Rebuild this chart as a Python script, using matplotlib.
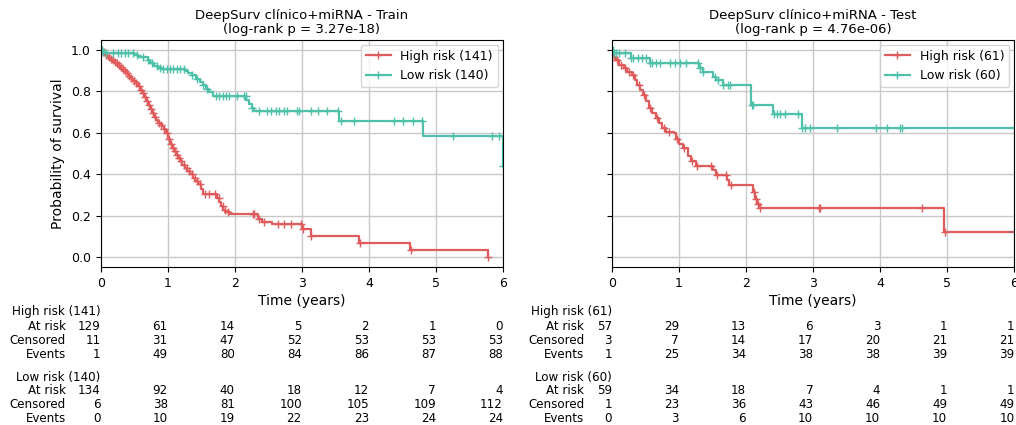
import numpy as np
import matplotlib
matplotlib.use("Agg")
import matplotlib.pyplot as plt
from matplotlib import transforms

# ---------------- data ----------------
titles = ["DeepSurv clínico+miRNA - Train\n(log-rank p = 3.27e-18)",
          "DeepSurv clínico+miRNA - Test\n(log-rank p = 4.76e-06)"]
labels_train = ["High risk (141)", "Low risk (140)"]
labels_test = ["High risk (61)", "Low risk (60)"]

# Train, high risk: step times and survival after each step
hi_tr_t = [0, 0.03, 0.07, 0.10, 0.13, 0.16, 0.19, 0.22, 0.25, 0.28, 0.31, 0.34, 0.37,
           0.40, 0.43, 0.46, 0.49, 0.52, 0.55, 0.58, 0.61, 0.64, 0.67, 0.70, 0.73, 0.76,
           0.79, 0.82, 0.85, 0.88, 0.91, 0.94, 0.97, 1.00, 1.03, 1.06, 1.09, 1.12, 1.15,
           1.18, 1.21, 1.25, 1.29, 1.33, 1.37, 1.41, 1.45, 1.49, 1.52, 1.74, 1.77, 1.80,
           1.83, 1.86, 1.93, 2.34, 2.40, 2.56, 3.00, 3.14, 3.85, 4.62, 5.77]
hi_tr_s = [1.0, 0.99, 0.975, 0.965, 0.958, 0.95, 0.943, 0.936, 0.928, 0.918, 0.908, 0.898,
           0.887, 0.875, 0.864, 0.857, 0.85, 0.84, 0.825, 0.805, 0.79, 0.772, 0.755, 0.735,
           0.716, 0.697, 0.677, 0.66, 0.645, 0.638, 0.632, 0.62, 0.598, 0.572, 0.548, 0.528,
           0.51, 0.494, 0.478, 0.462, 0.446, 0.43, 0.415, 0.4, 0.384, 0.368, 0.352, 0.33,
           0.305, 0.285, 0.265, 0.245, 0.228, 0.218, 0.207, 0.183, 0.17, 0.158, 0.133, 0.10,
           0.067, 0.033, 0.0]
hi_tr_end = 5.78
hi_tr_cens = [0.02, 0.05, 0.08, 0.12, 0.15, 0.18, 0.21, 0.24, 0.27, 0.30, 0.33, 0.36, 0.39,
              0.42, 0.45, 0.50, 0.53, 0.57, 0.60, 0.63, 0.66, 0.69, 0.72, 0.75, 0.78, 0.81,
              0.87, 0.90, 0.95, 0.99, 1.02, 1.05, 1.08, 1.11, 1.14, 1.17, 1.20, 1.24, 1.28,
              1.32, 1.36, 1.40, 1.44, 1.48, 1.55, 1.62, 1.70, 1.76, 1.82, 1.85, 1.90, 2.27,
              2.29, 2.36, 2.44, 2.65, 2.74, 2.84, 2.99, 3.01, 3.14, 3.86, 4.63, 5.78]

# Train, low risk
lo_tr_t = [0, 0.03, 0.08, 0.50, 0.56, 0.70, 0.74, 0.80, 0.86, 0.92, 1.25, 1.30, 1.36, 1.42,
           1.48, 1.52, 1.57, 1.62, 1.67, 2.17, 2.21, 2.25, 2.28, 3.56, 4.81, 6.0]
lo_tr_s = [1.0, 0.992, 0.984, 0.976, 0.968, 0.952, 0.936, 0.925, 0.915, 0.907, 0.897, 0.889,
           0.878, 0.862, 0.846, 0.83, 0.812, 0.795, 0.776, 0.758, 0.74, 0.722, 0.706, 0.658,
           0.585, 0.44]
lo_tr_end = 6.0
lo_tr_cens = [0.02, 0.035, 0.085, 0.185, 0.26, 0.31, 0.36, 0.41, 0.485, 0.535, 0.635, 0.71,
              0.76, 0.835, 0.885, 0.935, 0.985, 1.035, 1.085, 1.135, 1.185, 1.235, 1.36, 1.44,
              1.52, 1.58, 1.72, 1.77, 1.82, 1.87, 1.92, 2.03, 2.13, 2.16, 2.26, 2.36, 2.485,
              2.535, 2.61, 2.66, 2.735, 2.785, 2.935, 2.96, 3.135, 3.235, 3.37, 3.535, 3.585,
              3.785, 4.37, 4.51, 4.66, 4.785, 5.26, 5.835, 5.935, 6.0]

# Test, high risk
hi_te_t = [0, 0.005, 0.02, 0.06, 0.11, 0.18, 0.23, 0.30, 0.35, 0.38, 0.42, 0.46, 0.50, 0.55,
           0.60, 0.65, 0.70, 0.75, 0.80, 0.93, 0.96, 1.00, 1.06, 1.13, 1.18, 1.25, 1.50, 1.55,
           1.72, 1.75, 2.10, 2.13, 2.16, 2.20, 4.95]
hi_te_s = [1.0, 0.984, 0.967, 0.95, 0.93, 0.912, 0.896, 0.88, 0.856, 0.832, 0.808, 0.784,
           0.752, 0.72, 0.696, 0.672, 0.648, 0.624, 0.605, 0.6, 0.568, 0.544, 0.525, 0.49,
           0.466, 0.442, 0.418, 0.394, 0.37, 0.346, 0.313, 0.281, 0.257, 0.238, 0.119]
hi_te_end = 6.3
hi_te_cens = [0.03, 0.08, 0.13, 0.20, 0.26, 0.32, 0.40, 0.48, 0.57, 0.67, 0.78, 0.85, 0.97,
              1.08, 1.20, 1.27, 1.48, 1.57, 1.70, 1.77, 2.12, 2.15, 2.18, 2.21, 3.08, 3.10,
              4.63, 4.96]

# Test, low risk
lo_te_t = [0, 0.02, 0.28, 0.56, 1.30, 1.36, 1.50, 1.55, 1.65, 2.08, 2.40, 2.84]
lo_te_s = [1.0, 0.984, 0.96, 0.936, 0.912, 0.896, 0.872, 0.856, 0.832, 0.736, 0.69, 0.621]
lo_te_end = 6.3
lo_te_cens = [0.01, 0.03, 0.06, 0.10, 0.19, 0.29, 0.31, 0.39, 0.44, 0.51, 0.56, 0.59, 0.66,
              0.71, 0.86, 0.94, 1.01, 1.11, 1.29, 1.31, 1.36, 1.53, 1.58, 1.65, 1.73, 1.76,
              2.09, 2.11, 2.41, 2.46, 2.51, 2.58, 2.78, 2.84, 2.88, 2.96, 3.35, 3.93, 4.10,
              4.30, 4.33]

# At-risk tables (ticks 0..6)
table_ticks = [0, 1, 2, 3, 4, 5, 6]
row_names = ["At risk", "Censored", "Events"]
tr_hi_atrisk = [129, 61, 14, 5, 2, 1, 0]
tr_hi_cens = [11, 31, 47, 52, 53, 53, 53]
tr_hi_events = [1, 49, 80, 84, 86, 87, 88]
tr_lo_atrisk = [134, 92, 40, 18, 12, 7, 4]
tr_lo_cens = [6, 38, 81, 100, 105, 109, 112]
tr_lo_events = [0, 10, 19, 22, 23, 24, 24]
te_hi_atrisk = [57, 29, 13, 6, 3, 1, 1]
te_hi_cens = [3, 7, 14, 17, 20, 21, 21]
te_hi_events = [1, 25, 34, 38, 38, 39, 39]
te_lo_atrisk = [59, 34, 18, 7, 4, 1, 1]
te_lo_cens = [1, 23, 36, 43, 46, 49, 49]
te_lo_events = [0, 3, 6, 10, 10, 10, 10]

RED = "#e05c5c"
TEAL = "#4fc1aa"

# ---------------- figure ----------------
fig = plt.figure(figsize=(10.16, 4.25), dpi=100)
W, H = 1016.0, 425.0
ax1 = fig.add_axes([100.7 / W, 1 - 267.3 / H, 402.3 / W, 227.6 / H])
ax2 = fig.add_axes([612.0 / W, 1 - 267.3 / H, 402.3 / W, 227.6 / H], sharey=ax1)


def draw_curve(ax, t, s, end, cens, color, label):
    tt = list(t) + [end]
    ss = list(s) + [s[-1]]
    ax.step(tt, ss, where="post", color=color, lw=1.6, zorder=2)
    c = np.asarray(cens)
    idx = np.searchsorted(np.asarray(t), c, side="right") - 1
    ax.plot(c, np.asarray(s)[idx], ls="none", marker="+", ms=5.5, mew=1.0,
            color=color, zorder=2)
    ax.plot([], [], color=color, lw=1.6, marker="+", ms=6, mew=1.0, label=label)


draw_curve(ax1, hi_tr_t, hi_tr_s, hi_tr_end, hi_tr_cens, RED, labels_train[0])
draw_curve(ax1, lo_tr_t, lo_tr_s, lo_tr_end, lo_tr_cens, TEAL, labels_train[1])
draw_curve(ax2, hi_te_t, hi_te_s, hi_te_end, hi_te_cens, RED, labels_test[0])
draw_curve(ax2, lo_te_t, lo_te_s, lo_te_end, lo_te_cens, TEAL, labels_test[1])

for ax, title in zip((ax1, ax2), titles):
    ax.set_xlim(0, 6)
    ax.set_ylim(-0.05, 1.05)
    ax.set_xticks(table_ticks)
    ax.set_yticks([0, 0.2, 0.4, 0.6, 0.8, 1.0])
    ax.grid(True, color="#c8c8c8", lw=1.0)
    ax.set_axisbelow(True)
    ax.tick_params(labelsize=9)
    ax.set_title(title, fontsize=9.5, linespacing=1.1, pad=5)
    ax.set_xlabel("Time (years)", fontsize=10, labelpad=3)
    ax.legend(loc="upper right", fontsize=9, handlelength=2.0, borderaxespad=0.4,
              framealpha=0.8)
ax1.set_ylabel("Probability of survival", fontsize=10)
plt.setp(ax2.get_yticklabels(), visible=False)

# ---------------- at-risk tables ----------------
row_y_px = [312, 326, 340, 354, 377, 390, 404, 418]
TFS = 8.6


def draw_table(ax, groups, name_offset_pt):
    trans = transforms.blended_transform_factory(ax.transData, fig.transFigure)
    k = 0
    for gname, rows in groups:
        y = 1 - row_y_px[k] / H
        ax.text(0, y, gname, transform=trans, ha="right", va="center", fontsize=TFS)
        k += 1
        for rname, vals in zip(row_names, rows):
            y = 1 - row_y_px[k] / H
            off = transforms.offset_copy(trans, fig=fig, x=-name_offset_pt, y=0,
                                         units="points")
            ax.text(0, y, rname, transform=off, ha="right", va="center", fontsize=TFS)
            for xt, v in zip(table_ticks, vals):
                ax.text(xt, y, str(v), transform=trans, ha="right", va="center",
                        fontsize=TFS)
            k += 1


draw_table(ax1, [(labels_train[0], [tr_hi_atrisk, tr_hi_cens, tr_hi_events]),
                 (labels_train[1], [tr_lo_atrisk, tr_lo_cens, tr_lo_events])], 25)
draw_table(ax2, [(labels_test[0], [te_hi_atrisk, te_hi_cens, te_hi_events]),
                 (labels_test[1], [te_lo_atrisk, te_lo_cens, te_lo_events])], 20)

fig.savefig("out.png", dpi=100)
